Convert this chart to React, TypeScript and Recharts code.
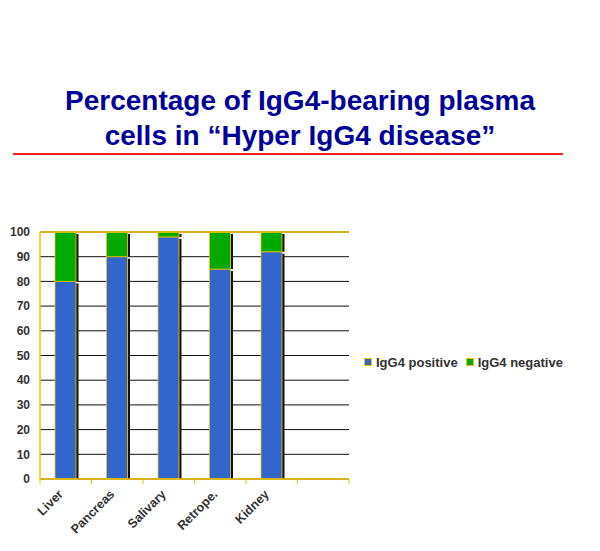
import React from 'react';
import { BarChart, Bar, XAxis, YAxis, CartesianGrid, ReferenceLine } from 'recharts';

const organs = ['Liver', 'Pancreas', 'Salivary', 'Retrope.', 'Kidney', ''];
const positive = [80, 90, 98, 85, 92, null];
const negative = [20, 10, 2, 15, 8, null];
const yTicks = [0, 10, 20, 30, 40, 50, 60, 70, 80, 90, 100];

const data = organs.map((name, i) => ({ name, pos: positive[i], neg: negative[i] }));

const W = 600;
const H = 551;
const X_H = 30;
const M = { top: 232, right: 251, left: 0, bottom: 72 - X_H };
const Y_W = 40;
const BAND = (W - M.left - M.right - Y_W) / organs.length;

const GOLD = '#f2c200';
const BLUE = '#3366cc';
const GREEN = '#00aa00';
const FONT = 'Arial, "Liberation Sans", sans-serif';

// bar segment with thin gold outline and a dark drop shadow on the right
const ShadowBar = (props: any) => {
  const { x, y, width, height, fill } = props;
  if (!height || height <= 0) return null;
  return (
    <g>
      <rect x={x + width} y={y + 2} width={2.5} height={height - 2} fill="#111" />
      <rect x={x} y={y} width={width} height={height} fill={fill} stroke={GOLD} strokeWidth={0.8} />
    </g>
  );
};

const XTick = (props: any) => {
  const { x, y, payload, index } = props;
  const left = x - BAND / 2;
  return (
    <g>
      <line x1={left} y1={y} x2={left} y2={y + 5} stroke={GOLD} strokeWidth={1} />
      {index === organs.length - 1 && (
        <line x1={left + BAND} y1={y} x2={left + BAND} y2={y + 5} stroke={GOLD} strokeWidth={1} />
      )}
      {payload.value && (
        <text
          x={0}
          y={0}
          transform={`translate(${x - 2},${y + 16}) rotate(-45)`}
          textAnchor="end"
          fontFamily={FONT}
          fontWeight="bold"
          fontSize={12.5}
          fill="#333"
        >
          {payload.value}
        </text>
      )}
    </g>
  );
};

const LegendItem = ({ color, label }: { color: string; label: string }) => (
  <span style={{ display: 'inline-flex', alignItems: 'center', marginRight: 8 }}>
    <span
      style={{
        display: 'inline-block',
        width: 6,
        height: 6,
        background: color,
        border: `1px solid ${GOLD}`,
        marginRight: 4,
      }}
    />
    {label}
  </span>
);

export default function App() {
  return (
    <div style={{ position: 'absolute', left: 0, top: 0, width: W, height: H, background: '#fff' }}>
      <div
        style={{
          position: 'absolute',
          top: 83,
          left: 0,
          width: W,
          textAlign: 'center',
          fontFamily: FONT,
          fontWeight: 'bold',
          fontSize: 28,
          lineHeight: '35px',
          color: '#000099',
        }}
      >
        Percentage of IgG4-bearing plasma
        <br />
        cells in “Hyper IgG4 disease”
      </div>
      <div style={{ position: 'absolute', top: 153, left: 13, width: 550, height: 2, background: '#ff2020' }} />

      <BarChart width={W} height={H} data={data} margin={M} barSize={21}>
        <CartesianGrid vertical={false} stroke="#111" strokeWidth={1} />
        <XAxis
          dataKey="name"
          height={X_H}
          tickLine={false}
          tickSize={0}
          tickMargin={0}
          axisLine={{ stroke: GOLD, strokeWidth: 1.5 }}
          tick={<XTick />}
          interval={0}
        />
        <YAxis
          width={Y_W}
          domain={[0, 100]}
          ticks={yTicks}
          interval={0}
          tickLine={false}
          tickSize={0}
          tickMargin={10}
          axisLine={{ stroke: GOLD, strokeWidth: 1.5 }}
          tick={{ fontFamily: FONT, fontWeight: 'bold', fontSize: 12, fill: '#333' }}
        />
        <YAxis
          yAxisId="r"
          orientation="right"
          width={0}
          domain={[0, 100]}
          tick={false}
          tickLine={false}
          axisLine={{ stroke: GOLD, strokeWidth: 1.5 }}
        />
        <Bar dataKey="pos" stackId="a" fill={BLUE} shape={<ShadowBar />} isAnimationActive={false} />
        <Bar dataKey="neg" stackId="a" fill={GREEN} shape={<ShadowBar />} isAnimationActive={false} />
        <ReferenceLine y={100} stroke={GOLD} strokeWidth={1.5} />
      </BarChart>

      <div
        style={{
          position: 'absolute',
          left: 364,
          top: 354,
          fontFamily: FONT,
          fontWeight: 'bold',
          fontSize: 13,
          color: '#333',
          whiteSpace: 'nowrap',
        }}
      >
        <LegendItem color={BLUE} label="IgG4 positive" />
        <LegendItem color={GREEN} label="IgG4 negative" />
      </div>
    </div>
  );
}
